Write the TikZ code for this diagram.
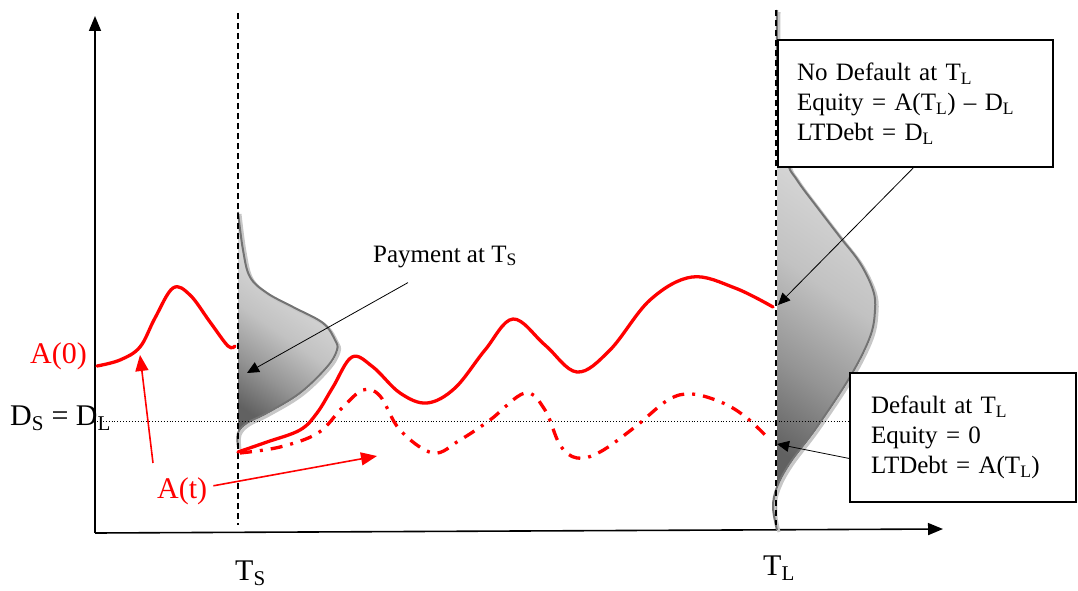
\documentclass[tikz,border=0pt]{standalone}
\usepackage{fontspec}
\setmainfont{Liberation Serif}
\usetikzlibrary{arrows.meta,calc}

% --- SHADING: dark only in the lower-left corner of a bell ---
\pgfdeclareverticalshading{bellshade}{100bp}{
  color(0bp)=(black!62); color(25bp)=(black!62); color(36bp)=(black!42);
  color(48bp)=(black!24); color(60bp)=(black!16); color(100bp)=(black!14)}

% --- BELL OUTLINES (reused for fill, shadow and edge) ---
\newcommand{\bellTS}{plot[smooth, tension=0.6] coordinates {
  (238,212) (243,250) (250,277) (267,293) (293,307) (323,323)
  (335,340) (337,350) (327,367) (300,393) (267,413) (247,423)
  (238,433) (238,447)}}
\newcommand{\bellTL}{plot[smooth, tension=0.6] coordinates {
  (777,10) (778,100) (787,160) (797,180) (817,207) (840,237)
  (860,263) (873,290) (875,310) (870,337) (850,377) (817,427)
  (790,463) (777,487) (773,507) (777,530)}}

\begin{document}
\begin{tikzpicture}[x=1pt,y=-1pt]

% --- STYLES ---
\tikzset{
  axisline/.style={black, line width=1.6pt, -{Triangle[length=15pt,width=12pt]}},
  timeline/.style={black, line width=1.3pt, dash pattern=on 6pt off 4pt},
  barrier/.style={black, line width=0.9pt, dotted},
  assetpath/.style={red, line width=3.3pt, line cap=round},
  defaultpath/.style={red, line width=3.3pt,
                      dash pattern=on 12pt off 8pt on 3pt off 8pt},
  bellfill/.style={shading=bellshade, shading angle=-35},
  bellline/.style={black!55, line width=2pt},
  bellshadow/.style={black!22, line width=3pt},
  infobox/.style={draw=black, line width=1.3pt, fill=white, align=left,
                  inner xsep=19pt, font=\fontsize{25}{30}\selectfont},
  pointer/.style={black, line width=0.8pt, -{Triangle[length=12pt,width=11pt]}},
  redpointer/.style={red, line width=1.6pt, -{Triangle[length=16pt,width=13pt]}},
  biglabel/.style={font=\fontsize{30}{36}\selectfont, inner sep=0pt},
  midlabel/.style={font=\fontsize{25}{30}\selectfont, inner sep=0pt},
}

\useasboundingbox (0,0) rectangle (1078,591);

% ================= AXES =================
\coordinate (origin) at (95,533);
\coordinate (ytop)   at (95,16);
\coordinate (xend)   at (943,529);
\draw[axisline] (origin) -- (ytop);
\draw[axisline] (origin) -- (xend);

% ================= DISTRIBUTIONS =================
\shade[bellfill] \bellTS -- cycle;
\shade[bellfill] \bellTL -- cycle;
\begin{scope}[shift={(2,2)}]
  \draw[bellshadow] \bellTS;
  \draw[bellshadow] \bellTL;
\end{scope}
\draw[bellline] \bellTS;
\draw[bellline] \bellTL;

% ================= TIME MARKS & BARRIER =================
\draw[timeline] (238,13) -- (238,525);
\draw[timeline] (776,10) -- (776,525);
\draw[barrier] (97,421) -- (850,421);

% ================= ASSET PATHS =================
\draw[assetpath] plot[smooth, tension=0.6] coordinates {
  (97,366) (120,360) (140,347) (155,318) (173,288) (190,295)
  (210,322) (228,346) (235,346)};
\draw[assetpath] plot[smooth, tension=0.6] coordinates {
  (238,452) (267,442) (300,430) (317,413) (333,387) (352,357)
  (373,367) (400,393) (427,403) (455,388) (485,350) (513,319)
  (545,345) (577,372) (610,350) (650,300) (692,277) (735,288) (773,307)};
\draw[defaultpath] plot[smooth, tension=0.6] coordinates {
  (240,453) (280,447) (318,433) (342,408) (363,390) (380,396)
  (400,430) (433,453) (460,440) (490,420) (525,393) (545,410)
  (560,445) (577,458) (600,452) (635,427) (668,400) (692,394)
  (723,403) (747,418) (770,440)};

% ================= LABELS =================
\node[biglabel, red, anchor=base west] (azero) at (30,363) {A(0)};
\node[biglabel, red, anchor=base west] (atlabel) at (157,498) {A(t)};
\node[biglabel, anchor=base west] (barrierlabel) at (10,425)
      {D\textsubscript{S} = D\textsubscript{L}};
\node[biglabel, anchor=base west] (tslabel) at (235,580) {T\textsubscript{S}};
\node[biglabel, anchor=base west] (tllabel) at (763,575) {T\textsubscript{L}};
\node[midlabel, anchor=base west] (payment) at (373,262)
      {Payment at T\textsubscript{S}};

% ================= BOXES =================
\node[infobox, text width=237pt, minimum height=127pt] (nodefault)
      at (915.5,103.5)
      {No Default at T\textsubscript{L}\\
       Equity = A(T\textsubscript{L}) -- D\textsubscript{L}\\
       LTDebt = D\textsubscript{L}};
\node[infobox, inner xsep=21pt, text width=184pt, minimum height=129pt]
      (default) at (963,437.5)
      {Default at T\textsubscript{L}\\
       Equity = 0\\
       LTDebt = A(T\textsubscript{L})};

% ================= POINTERS =================
\coordinate (paytip)  at (247,373);
\coordinate (ndtip)   at (778,305);
\coordinate (dtip)    at (777,444);
\coordinate (risetip) at (140,355);
\coordinate (flowtip) at (377,456);

\draw[pointer] ([xshift=35pt,yshift=-15pt]payment.south west) -- (paytip);
\draw[pointer] ([xshift=-2pt]nodefault.south) -- (ndtip);
\draw[pointer] ([yshift=-21pt]default.west) -- (dtip);
\draw[redpointer] ([xshift=-4pt,yshift=14pt]atlabel.north west) -- (risetip);
\draw[redpointer] ([xshift=6pt,yshift=5pt]atlabel.east) -- (flowtip);

\end{tikzpicture}
\end{document}
